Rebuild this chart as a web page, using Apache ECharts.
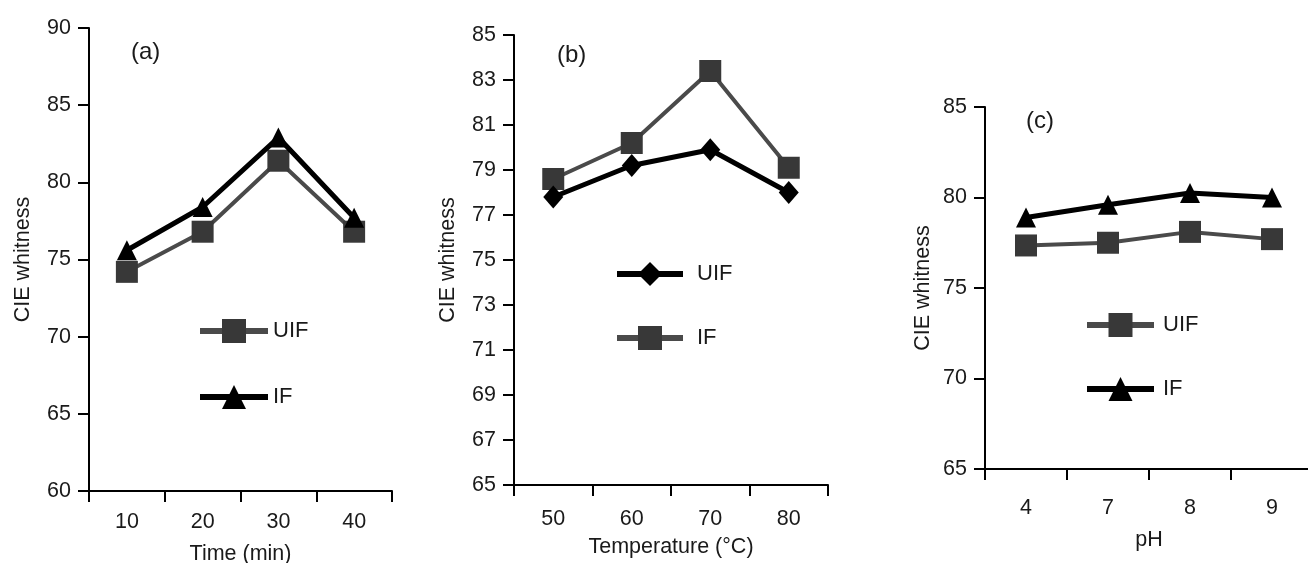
<!DOCTYPE html>
<html><head><meta charset="utf-8">
<script src="https://cdn.jsdelivr.net/npm/echarts@6/dist/echarts.min.js"></script>
<style>
html,body{margin:0;padding:0;background:#fff;width:1308px;height:563px;overflow:hidden;position:relative}
.c{position:absolute;left:0;top:0;height:563px}
</style></head>
<body>
<div id="ca" class="c" style="width:1308px"></div>
<div id="cb" class="c" style="width:1308px"></div>
<div id="cc" class="c" style="width:1340px"></div>
<script>
// Panel (a): time
const timeCats = ['10','20','30','40'];
const aUIF = [74.2, 76.8, 81.4, 76.8];
const aIF  = [75.6, 78.4, 82.9, 77.7];
// Panel (b): temperature
const tempCats = ['50','60','70','80'];
const bUIF = [77.8, 79.2, 79.9, 78.0];
const bIF  = [78.6, 80.2, 83.4, 79.1];
const bTicks = [65,67,69,71,73,75,77,79,81,83,85];
// Panel (c): pH
const phCats = ['4','7','8','9'];
const cUIF = [77.35, 77.5, 78.1, 77.7];
const cIF  = [78.9, 79.6, 80.25, 80.0];

const FONT = 'Liberation Sans, Arial, sans-serif';
const TXT = '#1a1a1a';
const GREY_LINE = '#4a4a4a', GREY_SYM = '#383838', BLACK = '#000';
const FS = 21.5;

function xAxis(cats, name, margin, gap){
  return {type:'category', data:cats, boundaryGap:true,
    name:name, nameLocation:'middle', nameGap:gap,
    nameTextStyle:{fontFamily:FONT,fontSize:FS,color:TXT},
    axisLine:{lineStyle:{color:BLACK,width:2}},
    axisTick:{show:true,length:11,inside:false,lineStyle:{color:BLACK,width:2}},
    axisLabel:{fontFamily:FONT,fontSize:FS,color:TXT,margin:margin},
    splitLine:{show:false}};
}
function yAxis(min,max,interval,custom,gap){
  const ax = {type:'value', min:min, max:max,
    name:'CIE whitness', nameLocation:'middle', nameGap:gap, nameRotate:90,
    nameTextStyle:{fontFamily:FONT,fontSize:FS,color:TXT},
    axisLine:{show:true,lineStyle:{color:BLACK,width:2}},
    axisTick:{show:true,length:11,lineStyle:{color:BLACK,width:2}},
    axisLabel:{fontFamily:FONT,fontSize:FS,color:TXT,margin:18},
    splitLine:{show:false}};
  if (custom){ ax.axisLabel.customValues = custom; ax.axisTick.customValues = custom; }
  else ax.interval = interval;
  return ax;
}
function greySq(name,data){
  return {name:name,type:'line',data:data,symbol:'rect',symbolSize:22,
    lineStyle:{color:GREY_LINE,width:4},itemStyle:{color:GREY_SYM},z:2};
}
function blackTri(name,data){
  return {name:name,type:'line',data:data,symbol:'triangle',symbolSize:20,
    lineStyle:{color:BLACK,width:5},itemStyle:{color:BLACK},z:3};
}
function blackDia(name,data){
  return {name:name,type:'line',data:data,symbol:'diamond',symbolSize:[20,23],
    lineStyle:{color:BLACK,width:5},itemStyle:{color:BLACK},z:3};
}
function legend(left,top,gap,w,textPad){
  return {orient:'vertical',left:left,top:top,padding:0,itemWidth:w,itemHeight:30,itemGap:gap,
    selectedMode:false,lineStyle:{width:6},
    textStyle:{fontFamily:FONT,fontSize:22,color:TXT,padding:[0,0,0,textPad]},
    data:['UIF','IF']};
}
function label(text,x,y){
  return {type:'text',left:x,top:y,style:{text:text,font:'24px '+FONT,fill:TXT}};
}
function grid(l,t,w,h){
  return {left:l,top:t,width:w,height:h,containLabel:false,outerBoundsMode:'none'};
}

echarts.init(document.getElementById('ca')).setOption({
  animation:false,
  grid:grid(89,28,303,463),
  xAxis:xAxis(timeCats,'Time (min)',20,52),
  yAxis:yAxis(60,90,5,null,55),
  legend:legend(197,319,42,68,0),
  graphic:[label('(a)',131,40)],
  series:[greySq('UIF',aUIF), blackTri('IF',aIF)]
});
echarts.init(document.getElementById('cb')).setOption({
  animation:false,
  grid:grid(514,35,314,450),
  xAxis:xAxis(tempCats,'Temperature (°C)',23,51),
  yAxis:yAxis(65,85,null,bTicks,55),
  legend:legend(614,262,40,66,9),
  graphic:[label('(b)',557,43)],
  series:[blackDia('UIF',bUIF), greySq('IF',bIF)]
});
echarts.init(document.getElementById('cc')).setOption({
  animation:false,
  grid:grid(985,107,328,362),
  xAxis:xAxis(phCats,'pH',28,60),
  yAxis:yAxis(65,85,5,null,51),
  legend:legend(1084,313,40,67,4),
  graphic:[label('(c)',1026,109)],
  series:[greySq('UIF',cUIF), blackTri('IF',cIF)]
});
</script>
</body></html>
